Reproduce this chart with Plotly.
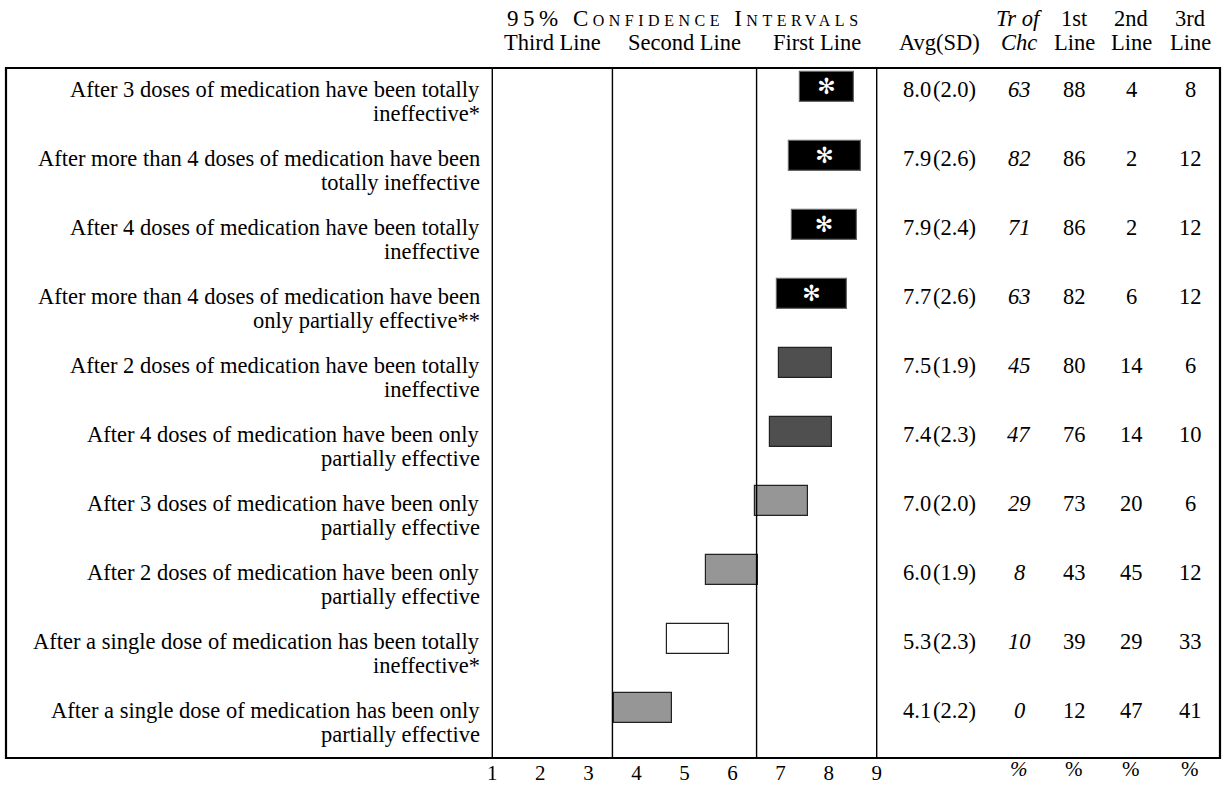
import plotly.graph_objects as go

# ---------------- data ----------------
labels = [
    "After 3 doses of medication have been totally<br>ineffective*",
    "After more than 4 doses of medication have been<br>totally ineffective",
    "After 4 doses of medication have been totally<br>ineffective",
    "After more than 4 doses of medication have been<br>only partially effective**",
    "After 2 doses of medication have been totally<br>ineffective",
    "After 4 doses of medication have been only<br>partially effective",
    "After 3 doses of medication have been only<br>partially effective",
    "After 2 doses of medication have been only<br>partially effective",
    "After a single dose of medication has been totally<br>ineffective*",
    "After a single dose of medication has been only<br>partially effective",
]
ci_low = [7.40, 7.17, 7.23, 6.92, 6.96, 6.77, 6.47, 5.44, 4.64, 3.54]
ci_high = [8.52, 8.67, 8.58, 8.38, 8.06, 8.06, 7.57, 6.52, 5.93, 4.75]
avg = [8.0, 7.9, 7.9, 7.7, 7.5, 7.4, 7.0, 6.0, 5.3, 4.1]
sd = [2.0, 2.6, 2.4, 2.6, 1.9, 2.3, 2.0, 1.9, 2.3, 2.2]
tr_of_chc = [63, 82, 71, 63, 45, 47, 29, 8, 10, 0]
first_line = [88, 86, 86, 82, 80, 76, 73, 43, 39, 12]
second_line = [4, 2, 2, 6, 14, 14, 20, 45, 29, 47]
third_line = [8, 12, 12, 12, 6, 10, 6, 12, 33, 41]
significant = [True, True, True, True, False, False, False, False, False, False]
shade = ["black", "black", "black", "black", "dark", "dark", "light", "light", "white", "light"]
x_ticks = [1, 2, 3, 4, 5, 6, 7, 8, 9]
region_bounds = [1, 3.5, 6.5, 9]
region_names = ["Third Line", "Second Line", "First Line"]

# ---------------- styling ----------------
W, H = 1224, 785
TOP, BOTTOM = 68, 761
FONT = "Liberation Serif"
FS = 22.5
LFS = 22.5
TFS = 21
PX_PER_UNIT = 48.05
X1_PX = 492.3
x_left = 1 - X1_PX / PX_PER_UNIT
x_right = x_left + W / PX_PER_UNIT
n = len(labels)
row_px = (BOTTOM - TOP) / n
SHADES = {"black": "#000000", "dark": "#4f4f4f", "light": "#969696", "white": "#ffffff"}


def pyp(p):
    """pixel y -> paper y"""
    return (BOTTOM - p) / (BOTTOM - TOP)


def px(p):
    return p / W


fig = go.Figure()
fig.add_trace(go.Bar(
    orientation="h",
    y=[i + 0.28 for i in range(n)],
    base=ci_low,
    x=[h - l for l, h in zip(ci_low, ci_high)],
    width=0.43,
    marker=dict(color=[SHADES[s] for s in shade],
                line=dict(color=["#666666" if s == "black" else "#222222" for s in shade],
                          width=1.2)),
    text=["\u273b" if s else "" for s in significant],
    textposition="inside",
    insidetextanchor="middle",
    textangle=0,
    constraintext="none",
    textfont=dict(family="DejaVu Sans", size=22, color="white"),
    hoverinfo="skip",
    showlegend=False,
))

shapes = []
shapes.append(dict(type="rect", xref="paper", yref="paper", x0=px(6), x1=px(1220), y0=0, y1=1,
                   line=dict(color="black", width=2.2)))
for b in region_bounds:
    shapes.append(dict(type="line", xref="x", yref="paper", x0=b, x1=b, y0=0, y1=1,
                       line=dict(color="black", width=1.4)))

ann = []
ann.append(dict(text='<span style="letter-spacing:4.5px">95% Confidence Intervals</span>',
                x=(region_bounds[0] + region_bounds[-1]) / 2,
                y=pyp(18), xref="x", yref="paper", showarrow=False, xanchor="center",
                yanchor="middle", font=dict(family=FONT, size=23, variant="small-caps")))
for k, name in enumerate(region_names):
    ann.append(dict(text=name, x=(region_bounds[k] + region_bounds[k + 1]) / 2, y=pyp(42),
                    xref="x", yref="paper", showarrow=False, xanchor="center", yanchor="middle",
                    font=dict(family=FONT, size=FS)))

col_x = {"avg": 939, "tr": 1019, "c1": 1074, "c2": 1131, "c3": 1190}
headers = [("avg", "", "Avg(SD)"), ("tr", "<i>Tr of</i>", "<i>Chc</i>"),
           ("c1", "1st", "Line"), ("c2", "2nd", "Line"), ("c3", "3rd", "Line")]
for key, l1, l2 in headers:
    if l1:
        ann.append(dict(text=l1, x=px(col_x[key]), y=pyp(18), xref="paper", yref="paper",
                        showarrow=False, xanchor="center", yanchor="middle",
                        font=dict(family=FONT, size=FS)))
    ann.append(dict(text=l2, x=px(col_x[key]), y=pyp(42), xref="paper", yref="paper",
                    showarrow=False, xanchor="center", yanchor="middle",
                    font=dict(family=FONT, size=FS)))

for i in range(n):
    parts = labels[i].split("<br>")
    for j, part in enumerate(parts):
        ann.append(dict(text=part, x=px(482), y=i + (22 + 24 * j) / row_px, xref="paper", yref="y",
                        showarrow=False, xanchor="right", yanchor="middle", align="right",
                        font=dict(family=FONT, size=LFS)))
    vals = [("avg", f"{avg[i]:.1f}\u200a({sd[i]:.1f})"), ("tr", f"<i>{tr_of_chc[i]}</i>"),
            ("c1", str(first_line[i])), ("c2", str(second_line[i])), ("c3", str(third_line[i]))]
    for key, t in vals:
        ann.append(dict(text=t, x=px(col_x[key]), y=i + 22 / row_px, xref="paper", yref="y",
                        showarrow=False, xanchor="center", yanchor="middle",
                        font=dict(family=FONT, size=FS)))

for key, t in [("tr", "<i>%</i>"), ("c1", "%"), ("c2", "%"), ("c3", "%")]:
    ann.append(dict(text=t, x=px(col_x[key]), y=pyp(772), xref="paper", yref="paper",
                    showarrow=False, xanchor="center", yanchor="middle",
                    font=dict(family=FONT, size=TFS)))

fig.update_layout(
    width=W, height=H,
    margin=dict(l=0, r=0, t=TOP, b=H - BOTTOM),
    paper_bgcolor="white", plot_bgcolor="white",
    font=dict(family=FONT, size=FS, color="black"),
    xaxis=dict(range=[x_left, x_right], tickvals=x_ticks, ticktext=[str(t) for t in x_ticks],
               showgrid=False, zeroline=False, showline=False, ticks="",
               tickfont=dict(family=FONT, size=TFS, color="black"), fixedrange=True),
    yaxis=dict(range=[n, 0], showgrid=False, zeroline=False, showticklabels=False,
               showline=False, fixedrange=True),
    shapes=shapes,
    annotations=ann,
    bargap=0,
)

fig.write_html("out.html", config={"displayModeBar": False},
               post_script="document.body.style.margin='0';")
